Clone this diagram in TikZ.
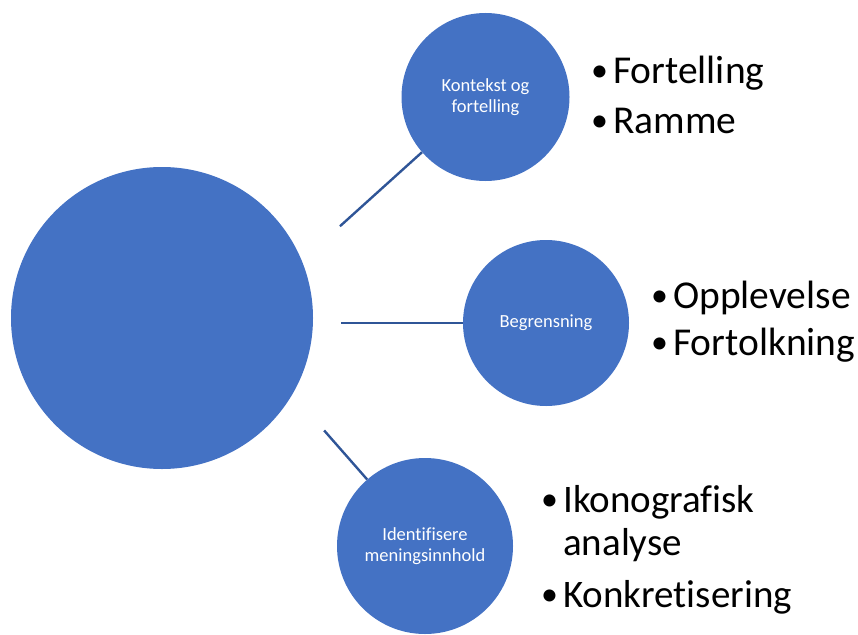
\documentclass[tikz,border=0pt]{standalone}
\usepackage{fontspec}
\setmainfont{Carlito}[Ligatures={NoCommon}]
\definecolor{cfill}{HTML}{4472C4}
\definecolor{cline}{HTML}{2F5597}
\newcommand{\bul}{\makebox[22pt][l]{\raisebox{1.4pt}{\fontsize{34}{0}\selectfont •}}}
\begin{document}
\begin{tikzpicture}[x=1pt,y=-1pt,
  circ/.style={circle,fill=cfill,draw=none,inner sep=0pt,text=white,align=center,
    font=\fontsize{18.5}{21}\selectfont},
  conn/.style={draw=cline,line width=2.4pt},
  blist/.style={anchor=base west,inner sep=0pt,align=left}]
\useasboundingbox (0,0) rectangle (858,634);
\node[circ,minimum size=302pt] (big) at (162,318) {};
\node[circ,minimum size=168pt] (c1) at (485.5,97) {Kontekst og\\fortelling};
\node[circ,minimum size=166pt] (c2) at (546,323) {Begrensning};
\node[circ,minimum size=176pt] (c3) at (425,546) {Identifisere\\meningsinnhold};
\draw[conn] (c1.221) -- ++(-82,74);
\draw[conn] (c2.180) -- ++(-122,0);
\draw[conn] (c3.131) -- ++(-43,-49);
\node[blist] (l1) at (591,83) {\fontsize{39.5}{50}\selectfont
  \begin{tabular}[t]{@{}l@{}}\bul Fortelling\\\bul Ramme\end{tabular}};
\node[blist] (l2) at (651,308) {\fontsize{39.5}{47}\selectfont
  \begin{tabular}[t]{@{}l@{}}\bul Opplevelse\\\bul Fortolkning\end{tabular}};
\node[blist] (l3) at (541,512) {\fontsize{39}{43}\selectfont
  \begin{tabular}[t]{@{}l@{}}\bul Ikonografisk\\\makebox[22pt][l]{}analyse\\[9pt]\bul Konkretisering\end{tabular}};
\end{tikzpicture}
\end{document}
